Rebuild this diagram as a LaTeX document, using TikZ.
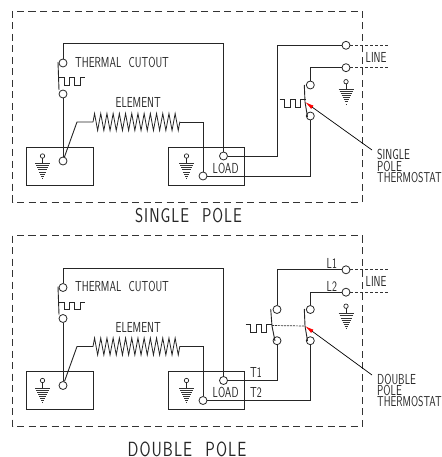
\documentclass[tikz,border=0pt]{standalone}
\usepackage{fontspec}
\usepackage{tikz}
\usetikzlibrary{arrows.meta,calc,positioning,decorations.pathmorphing}
\newfontfamily\cadfont[FakeStretch=0.72,WordSpace=2.2]{Latin Modern Sans}
\newfontfamily\capfont[FakeStretch=0.78,LetterSpace=5,WordSpace=2.2]{Latin Modern Sans}

\tikzset{
  wire/.style={line width=0.9pt,black!85},
  term/.style={circle,draw,line width=0.8pt,black!85,fill=white,inner sep=0pt,minimum size=8pt},
  lbl/.style={anchor=west,inner sep=0pt,black!85,font=\cadfont\fontsize{14.5}{14.5}\selectfont},
  captext/.style={anchor=center,inner sep=0pt,black!85,font=\capfont\fontsize{20}{20}\selectfont},
  frame/.style={line width=0.9pt,black!80,dash pattern=on 7pt off 4.5pt},
  feed/.style={line width=0.8pt,black!80,dash pattern=on 3pt off 2pt},
  pointer/.style={line width=0.7pt,{Latex[red,length=9pt,width=4pt]}-},
  wavepic/.pic={\draw[wire,line width=0.8pt] (0,0) -- (5,0) -- (5,7.5) -- (10.5,7.5) -- (10.5,0) -- (15.5,0) -- (15.5,7.5) -- (21,7.5) -- (21,0) -- (26,0);},
  gndpic/.pic={
    \draw[wire,line width=0.7pt] (0,2.2) -- (0,7);
    \draw[wire,line width=0.7pt] (0,0) circle (2.2);
    \foreach \i in {0,...,7} {
      \draw[black!80,line width=0.7pt] ({-7.5+\i}, {7.5+2.1*\i}) -- ({7.5-\i}, {7.5+2.1*\i});
    }
  }
}

\begin{document}
\begin{tikzpicture}[x=1pt,y=-1pt]
  \useasboundingbox (0,0) rectangle (441,457);

  % Parts both panels share
  \foreach \p/\dy in {s/0,d/224.5} {
    \begin{scope}[yshift=-\dy pt]
      \draw[frame] (12.5,11) rectangle (362,202);
      \draw[wire] (26.5,147) rectangle (93.5,185);
      \draw[wire] (168,147) rectangle (244.5,185);

      \node[term] (\p cut1) at (63,63) {};
      \node[term] (\p cut2) at (63,94) {};
      \node[term] (\p gnd) at (63,161) {};
      \node[term] (\p load1) at (223.5,156) {};
      \node[term] (\p load2) at (203,176) {};
      \coordinate (\p elemL) at (93,122);
      \coordinate (\p elemR) at (180,122);

      % Cutout and element
      \draw[wire] (\p cut1) -- ++(0,-19.3) -| (\p load1);
      \draw[wire] (58,62) -- (59,90);
      \draw[wire] (\p cut2) -- (\p gnd);
      \pic at (59,77.5) {wavepic};
      \draw[wire] (\p gnd) -- (77,122) -- (\p elemL);
      \draw[wire,line width=0.8pt,decorate,decoration={zigzag,segment length=6.2pt,amplitude=8.5pt}] (\p elemL) -- (\p elemR);
      \draw[wire] (\p elemR) -| (\p load2);

      % Grounds
      \pic at (42.5,156) {gndpic};
      \pic at (186.5,156) {gndpic};
      \pic at (346,81.7) {gndpic};

      \node[lbl] (\p cutlbl) at (75,62) {THERMAL CUTOUT};
      \node[lbl] (\p elemlbl) at (115.5,102.5) {ELEMENT};
      \node[lbl] (\p loadlbl) at (212.5,168) {LOAD};
      \node[lbl] (\p linelbl) at (365.5,57) {LINE};

      % Line side
      \node[term] (\p line1) at (346,45.3) {};
      \node[term] (\p line2) at (346,67.7) {};
      \coordinate (\p end1) at (389,45.3);
      \coordinate (\p end2) at (389,67.7);
      \draw[feed] (\p line1) -- (\p end1);
      \draw[feed] (\p line2) -- (\p end2);
    \end{scope}
  }

  % Single pole switch
  \node[term] (sth1) at (310.3,85) {};
  \node[term] (sth2) at (310.3,116) {};
  \draw[wire] (sload1) -- ++(53.5,0) |- (sline1);
  \draw[wire] (sline2) -| (sth1);
  \draw[wire] (sth2) |- (sload2);
  \draw[wire] (304.3,85) -- (305,102) -- (307.5,117);
  \pic at (279.5,99.5) {wavepic};
  \coordinate (stip) at (305,102);
  \node[lbl] (sname1) at (377,154.5) {SINGLE};
  \node[lbl] (sname2) at (377,166) {POLE};
  \node[lbl,font=\cadfont\fontsize{14.3}{14.3}\selectfont] (sname3) at (377,177.5) {THERMOSTAT};
  \coordinate (sfree) at (372,150);
  \draw[pointer] (stip) -- (sfree);
  \node[captext] (scap) at (188.5,216) {SINGLE POLE};

  % Double pole switch
  \node[term] (dth1a) at (277,309.5) {};
  \node[term] (dth2a) at (277,340.7) {};
  \node[term] (dth1b) at (310.3,309.5) {};
  \node[term] (dth2b) at (310.3,340.7) {};
  \draw[wire] (dline1) -| (dth1a);
  \draw[wire] (dline2) -| (dth1b);
  \draw[wire] (dth2a) |- (dload1);
  \draw[wire] (dth2b) |- (dload2);
  \draw[wire] (270.7,309) -- (272,326) -- (275,341);
  \draw[wire] (304.3,309) -- (305,326) -- (307.5,341);
  \pic at (245.5,324.7) {wavepic};
  \coordinate (dtip) at (305,326);
  \draw[feed,line width=0.7pt,dash pattern=on 2pt off 1pt] (272,325.5) -- (dtip);
  \node[lbl] (dL1) at (326.5,263) {L1};
  \node[lbl] (dL2) at (326.5,286.5) {L2};
  \node[lbl] (dT1) at (250,372.5) {T1};
  \node[lbl] (dT2) at (250,392.5) {T2};
  \node[lbl] (dname1) at (377,379) {DOUBLE};
  \node[lbl] (dname2) at (377,390.5) {POLE};
  \node[lbl,font=\cadfont\fontsize{14.3}{14.3}\selectfont] (dname3) at (377,402) {THERMOSTAT};
  \coordinate (dfree) at (372,375);
  \draw[pointer] (dtip) -- (dfree);
  \node[captext,font=\capfont\fontsize{20.5}{20.5}\selectfont] (dcap) at (187,449) {DOUBLE POLE};
\end{tikzpicture}
\end{document}
